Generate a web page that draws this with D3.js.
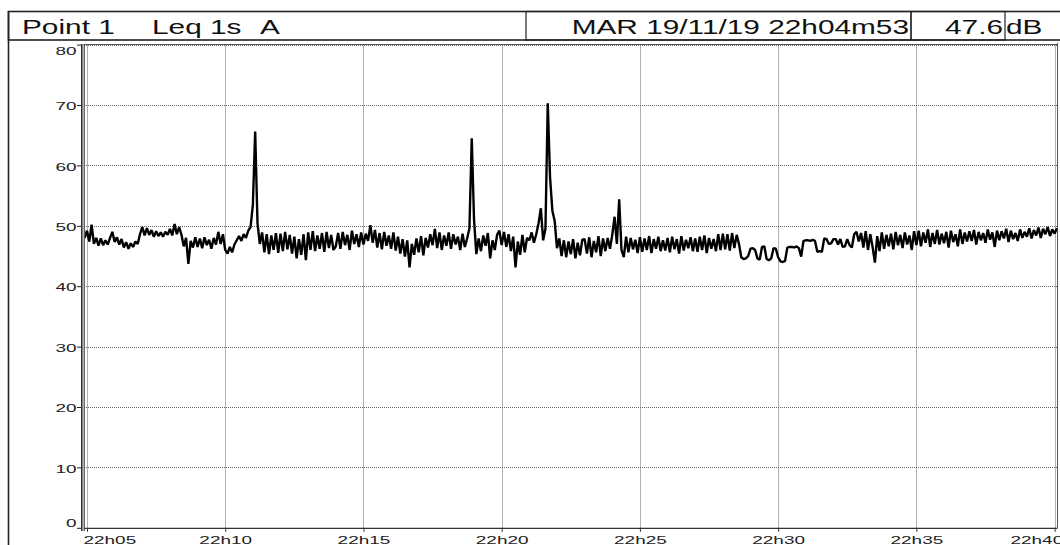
<!DOCTYPE html>
<html>
<head>
<meta charset="utf-8">
<script src="https://cdn.jsdelivr.net/npm/d3@7"></script>
<style>
  body { margin: 0; background: #fff; }
  svg { display: block; font-family: "Liberation Sans", Arial, sans-serif; }
</style>
</head>
<body>
<div id="chart"></div>
<script>
/*********************************************************/
// Chart data

const headerLeft = ["Point 1", "Leq 1s", "A"];
const headerDate = "MAR 19/11/19 22h04m53";
const headerValue = "47.6";
const headerUnit = "dB";

const yTicks = [0, 10, 20, 30, 40, 50, 60, 70, 80];
const xTickTimes = ["22:05:00", "22:10:00", "22:15:00", "22:20:00", "22:25:00", "22:30:00", "22:35:00", "22:40:00"];
const xTickLabels = ["22h05", "22h10", "22h15", "22h20", "22h25", "22h30", "22h35", "22h40"];

const startTime = "22:04:55";
const stepSeconds = 5;

// Leq values in dB(A), one every 5 seconds
const leqValues = [
  // 22h04m55
  48.0,
  // 22h05
  49.2, 47.4, 50.2, 47.0, 48.0, 46.7, 47.9, 46.8, 47.6, 46.9, 48.0, 49.0,
  // 22h06
  47.3, 48.1, 46.9, 47.8, 46.4, 47.3, 46.2, 47.1, 46.5, 47.4, 47.0, 48.6,
  // 22h07
  49.8, 48.4, 49.6, 48.5, 49.3, 48.2, 49.1, 48.3, 48.9, 48.2, 49.0, 48.5,
  // 22h08
  49.5, 48.4, 50.3, 48.6, 49.8, 48.5, 46.6, 48.0, 43.7, 47.5, 46.4, 48.1,
  // 22h09
  46.5, 47.9, 46.3, 48.1, 46.8, 47.7, 46.2, 48.0, 46.9, 49.0, 47.0, 48.6,
  // 22h10
  46.0, 45.4, 46.5, 45.6, 46.9, 47.6, 48.3, 47.5, 48.6, 48.0, 49.2, 49.8,
  // 22h11
  53.5, 65.6, 50.5, 47.0, 48.9, 45.6, 48.6, 45.3, 48.4, 46.0, 48.8, 45.5,
  // 22h12
  48.7, 45.8, 49.0, 46.1, 48.5, 45.4, 48.2, 44.6, 47.8, 45.2, 48.6, 44.3,
  // 22h13
  48.9, 46.0, 49.1, 45.8, 48.4, 46.2, 48.8, 45.7, 49.0, 46.3, 48.5, 46.0,
  // 22h14
  46.6, 48.8, 46.2, 49.0, 46.8, 48.5, 46.0, 49.2, 47.0, 48.6, 46.5, 48.9,
  // 22h15
  46.9, 48.7, 47.5, 50.1, 47.2, 49.3, 46.4, 48.8, 46.1, 49.0, 46.7, 48.4,
  // 22h16
  46.2, 48.9, 45.9, 48.2, 45.4, 47.8, 44.9, 47.6, 43.1, 47.0, 45.2, 47.9,
  // 22h17
  45.6, 48.3, 45.1, 48.0, 46.4, 48.6, 46.8, 49.5, 46.3, 48.9, 46.0, 48.4,
  // 22h18
  46.7, 48.9, 46.2, 48.6, 46.9, 48.2, 46.0, 48.7, 46.5, 47.9, 49.6, 64.5,
  // 22h19
  51.0, 45.3, 47.9, 45.8, 48.4, 46.7, 48.8, 44.6, 47.6, 46.0, 48.5, 49.2,
  // 22h20
  46.8, 49.0, 46.5, 48.6, 45.8, 48.2, 43.1, 47.4, 45.2, 48.5, 45.6, 48.0,
  // 22h21
  47.6, 48.9, 47.2, 48.6, 50.4, 52.9, 47.6, 49.5, 70.3, 58.0, 52.5, 50.8,
  // 22h22
  46.3, 47.9, 45.0, 47.6, 44.8, 47.4, 45.3, 47.8, 44.6, 47.2, 45.1, 47.7,
  // 22h23
  47.8, 45.4, 48.1, 44.8, 47.5, 45.6, 48.3, 45.0, 47.9, 45.8, 48.0, 46.2,
  // 22h24
  48.5, 51.5, 47.0, 54.4, 46.0, 44.8, 48.2, 45.6, 48.0, 46.1, 47.7, 45.5,
  // 22h25
  48.1, 45.7, 47.9, 46.0, 48.3, 45.5, 47.8, 46.2, 48.2, 45.8, 47.6, 45.9,
  // 22h26
  48.0, 45.6, 48.2, 46.1, 47.8, 45.4, 48.3, 45.9, 47.7, 46.3, 48.1, 45.8,
  // 22h27
  47.9, 45.7, 48.2, 46.0, 48.4, 45.5, 48.0, 46.2, 47.8, 45.8, 48.6, 46.0,
  // 22h28
  48.7, 46.1, 48.6, 45.9, 48.8, 46.3, 48.5, 47.0, 44.8, 44.5, 44.6, 45.0,
  // 22h29
  46.2, 46.3, 46.0, 44.6, 44.4, 46.5, 46.6, 44.5, 44.3, 44.6, 46.3, 46.2,
  // 22h30
  44.8, 44.1, 44.0, 44.2, 46.4, 46.5, 46.5, 46.4, 46.6, 46.3, 44.9, 47.5,
  // 22h31
  47.6, 47.6, 47.5, 47.7, 47.5, 45.7, 45.8, 45.7, 47.9, 47.8, 47.0, 47.1,
  // 22h32
  47.8, 47.8, 46.9, 47.8, 46.5, 46.6, 47.8, 46.8, 46.4, 48.6, 49.0, 47.4,
  // 22h33
  48.8, 46.4, 49.1, 46.0, 48.6, 46.5, 43.9, 48.3, 45.8, 48.9, 46.2, 48.5,
  // 22h34
  46.6, 48.7, 46.1, 49.0, 46.8, 48.5, 46.3, 48.9, 46.9, 48.4, 46.0, 49.1,
  // 22h35
  46.8, 49.2, 46.6, 48.9, 47.2, 49.4, 46.5, 48.8, 47.0, 49.3, 46.9, 48.7,
  // 22h36
  47.1, 49.0, 46.4, 49.2, 47.3, 48.6, 46.6, 49.4, 47.0, 48.9, 47.4, 49.1,
  // 22h37
  47.5, 49.3, 46.9, 49.0, 47.6, 48.8, 47.2, 49.4, 47.7, 48.9, 46.5, 49.2,
  // 22h38
  47.6, 49.1, 47.9, 49.5, 47.3, 49.2, 47.8, 48.8, 47.5, 49.4, 48.0, 49.0,
  // 22h39
  48.2, 49.6, 47.9, 49.3, 48.4, 49.7, 48.0, 49.5, 48.6, 49.8, 48.3, 49.4,
  // 22h40
  48.7, 49.6
];

/*********************************************************/
// SVG area and plot box

const svgWidth = 1060;
const svgHeight = 545;

const plot = { left: 84, right: 1057.5, top: 44.6, bottom: 527.8 };

const labelStretch = 1.65;   // the recorder font is drawn wide
const headerStretch = 1.42;

const svg = d3
  .select("#chart")
  .append("svg")
  .attr("width", svgWidth)
  .attr("height", svgHeight);

const parseTime = d3.timeParse("%H:%M:%S");

let xScale = d3
  .scaleTime()
  .domain([parseTime("22:05:00"), parseTime("22:40:00")])
  .range([87, 1054.6]);

let yScale = d3
  .scaleLinear()
  .domain([0, 80])
  .range([plot.bottom, plot.top]);

/******************** Header strip **********************/
svg.append("rect")
  .attr("x", 8.5).attr("y", 11.5)
  .attr("width", 1060).attr("height", 28.5)
  .attr("fill", "none").attr("stroke", "#222").attr("stroke-width", 1.6);

svg.append("rect")
  .attr("x", 526).attr("y", 11.5)
  .attr("width", 385).attr("height", 28.5)
  .attr("fill", "none").attr("stroke", "#222").attr("stroke-width", 1.2);

svg.append("rect")
  .attr("x", 911).attr("y", 11.5)
  .attr("width", 94).attr("height", 28.5)
  .attr("fill", "none").attr("stroke", "#222").attr("stroke-width", 1.2);

const headerX = [22, 152, 260];
headerLeft.forEach((t, i) => {
  svg.append("text")
    .text(t)
    .attr("transform", `translate(${headerX[i]},34) scale(${headerStretch},1)`)
    .attr("font-size", "21px")
    .attr("fill", "#111");
});

svg.append("text")
  .text(headerDate)
  .attr("transform", `translate(909,34) scale(${headerStretch},1)`)
  .attr("text-anchor", "end")
  .attr("font-size", "21px")
  .attr("fill", "#111");

svg.append("text")
  .text(headerValue)
  .attr("transform", `translate(1003,34) scale(${headerStretch},1)`)
  .attr("text-anchor", "end")
  .attr("font-size", "21px")
  .attr("fill", "#111");

svg.append("text")
  .text(headerUnit)
  .attr("transform", `translate(1006,34) scale(${headerStretch},1)`)
  .attr("font-size", "21px")
  .attr("fill", "#111");

// left frame running down the page
svg.append("line")
  .attr("x1", 8.5).attr("x2", 8.5)
  .attr("y1", 11).attr("y2", svgHeight)
  .attr("stroke", "#222").attr("stroke-width", 1.6);

/******************** Grid **********************/
const gridGroup = svg.append("g");

gridGroup.selectAll(".hgrid")
  .data(yTicks.slice(1))
  .enter()
  .append("line")
  .attr("x1", plot.left).attr("x2", plot.right)
  .attr("y1", d => Math.round(yScale(d)) + 0.5)
  .attr("y2", d => Math.round(yScale(d)) + 0.5)
  .attr("stroke", "#666").attr("stroke-width", 1)
  .attr("stroke-dasharray", "1,1");

gridGroup.selectAll(".vgrid")
  .data(xTickTimes)
  .enter()
  .append("line")
  .attr("x1", d => Math.round(xScale(parseTime(d))) + 0.5)
  .attr("x2", d => Math.round(xScale(parseTime(d))) + 0.5)
  .attr("y1", plot.top).attr("y2", plot.bottom)
  .attr("stroke", "#666").attr("stroke-width", 1)
  .attr("stroke-dasharray", "1,1");

// plot frame
svg.append("line")
  .attr("x1", plot.left).attr("x2", plot.right)
  .attr("y1", 44.5).attr("y2", 44.5)
  .attr("stroke", "#555").attr("stroke-width", 1);

svg.append("line")
  .attr("x1", plot.right).attr("x2", plot.right)
  .attr("y1", 43).attr("y2", plot.bottom)
  .attr("stroke", "#555").attr("stroke-width", 1);

/******************** Axes **********************/
let leftAxis = d3.axisLeft(yScale)
  .tickValues(yTicks)
  .tickSize(4)
  .tickSizeOuter(0);

const yAxisGroup = svg.append("g")
  .attr("transform", "translate(81,0)")
  .call(leftAxis);

yAxisGroup.select(".domain").remove();
yAxisGroup.selectAll("line").attr("stroke", "#222");
yAxisGroup.selectAll("text")
  .attr("x", 0)
  .attr("dy", d => (d === 80 ? 10.4 : d === 0 ? -1.8 : 4.6))
  .attr("transform", `translate(-4.5,0) scale(${labelStretch},1)`)
  .attr("font-size", "11.5px")
  .attr("font-family", "Liberation Sans, Arial, sans-serif")
  .attr("fill", "#222");

// double line on the level axis
svg.append("line")
  .attr("x1", 81.8).attr("x2", 81.8)
  .attr("y1", 44).attr("y2", 531)
  .attr("stroke", "#333").attr("stroke-width", 1.6);
svg.append("line")
  .attr("x1", 84.2).attr("x2", 84.2)
  .attr("y1", 44).attr("y2", 531)
  .attr("stroke", "#444").attr("stroke-width", 1.2);

let bottomAxis = d3.axisBottom(xScale)
  .tickValues(xTickTimes.map(parseTime))
  .tickFormat((d, i) => xTickLabels[i])
  .tickSize(4)
  .tickSizeOuter(0);

const xAxisGroup = svg.append("g")
  .attr("transform", `translate(0,${plot.bottom})`)
  .call(bottomAxis);

xAxisGroup.select(".domain")
  .attr("d", `M${plot.left},0.5H${plot.right}`)
  .attr("stroke", "#333").attr("stroke-width", 1.3);
xAxisGroup.selectAll("line").attr("stroke", "#333");

const lastTick = xTickLabels.length - 1;
xAxisGroup.selectAll("text")
  .attr("y", 16.4)
  .attr("dy", 0)
  .attr("text-anchor", (d, i) => (i === 0 || i === lastTick ? "start" : "middle"))
  .attr("transform", (d, i) => {
    const shift = i === 0 ? -4 : i === lastTick ? -44.6 : 0;
    return `translate(${shift},0) scale(${labelStretch},1)`;
  })
  .attr("font-size", "11.5px")
  .attr("font-family", "Liberation Sans, Arial, sans-serif")
  .attr("fill", "#222");

/******************** Level trace **********************/
const start = parseTime(startTime);
const series = leqValues.map((v, i) => ({
  time: new Date(start.getTime() + i * stepSeconds * 1000),
  leq: v
}));

svg.append("clipPath")
  .attr("id", "plotClip")
  .append("rect")
  .attr("x", 84.8).attr("y", plot.top)
  .attr("width", plot.right - 84.8).attr("height", plot.bottom - plot.top);

const leqLine = d3.line()
  .x(d => xScale(d.time))
  .y(d => yScale(d.leq));

svg.append("path")
  .datum(series)
  .attr("clip-path", "url(#plotClip)")
  .attr("d", leqLine)
  .attr("fill", "none")
  .attr("stroke", "#000")
  .attr("stroke-width", 2.4)
  .attr("stroke-linejoin", "bevel");
</script>
</body>
</html>
